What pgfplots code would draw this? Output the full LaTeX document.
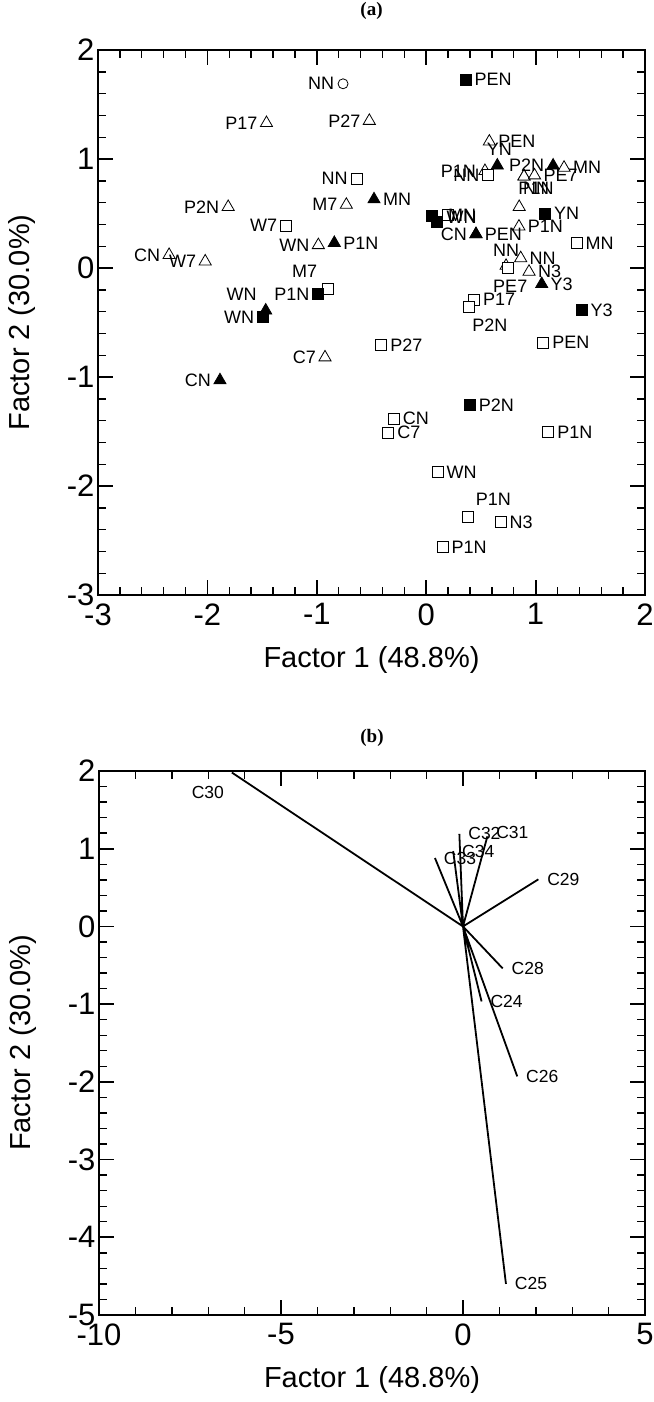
\documentclass[border=0pt]{standalone}
\usepackage{fontspec}
\setmainfont{Liberation Sans}
\newfontfamily\serifbf{Liberation Serif}
\usepackage{pgfplots}
\usepackage{pgfplotstable}
\pgfplotsset{compat=1.18}

% label helpers: left of the mark, right of the mark, centred at an offset (pt)
\newcommand\Lt[1]{\makebox[0pt][r]{#1\hspace*{9pt}}}
\newcommand\Rt[1]{\makebox[0pt][l]{\hspace*{9pt}#1}}
\newcommand\Ct[3]{\makebox[0pt][l]{\hspace*{#1pt}\makebox[0pt][c]{\raisebox{\dimexpr #2pt-0.358em\relax}[0pt][0pt]{#3}}}}

% scores, panel (a): open triangles
\pgfplotstableread{
x y lab
-1.46 1.33 \Lt{P17}
-0.52 1.35 \Lt{P27}
-0.73 0.58 \Lt{M7}
-1.81 0.56 \Lt{P2N}
-0.986 0.21 \Lt{WN}
-2.35 0.12 \Lt{CN}
-2.02 0.06 \Lt{W7}
-0.925 -0.82 \Lt{C7}
0.577 1.16 \Rt{PEN}
0.537 0.89 \Lt{P1N}
0.894 0.84 \Ct{12}{-12}{P1N}
0.894 0.84 \Ct{12}{-12}{NN}
0.99 0.85 \Rt{PE7}
1.26 0.92 \Rt{MN}
0.85 0.56 {}
0.848 0.38 \Rt{P1N}
0.864 0.09 \Rt{NN}
0.73 0.02 \Ct{0}{16}{NN}
0.94 -0.034 \Rt{N3}
}\otri

% filled triangles
\pgfplotstableread{
x y lab
-0.477 0.63 \Rt{MN}
-0.84 0.23 \Rt{P1N}
-1.467 -0.39 \Ct{-24}{16}{WN}
-1.885 -1.03 \Lt{CN}
0.65 0.94 \Ct{2}{16}{YN}
1.16 0.94 \Lt{P2N}
0.455 0.31 \Lt{CN}
0.455 0.31 \Rt{PEN}
1.056 -0.147 \Rt{Y3}
}\ftri

% open squares
\pgfplotstableread{
x y lab
-0.635 0.82 \Lt{NN}
-1.28 0.39 \Lt{W7}
-0.90 -0.195 \Ct{-23}{18}{M7}
-0.41 -0.71 \Rt{P27}
-0.295 -1.38 \Rt{CN}
-0.346 -1.51 \Rt{C7}
1.116 -1.507 \Rt{P1N}
0.105 -1.87 \Rt{WN}
0.385 -2.28 \Ct{25}{17}{P1N}
0.68 -2.33 \Rt{N3}
0.15 -2.56 \Rt{P1N}
0.568 0.853 \Lt{NN}
0.20 0.49 \Ct{14}{0}{MN}
1.375 0.226 \Rt{MN}
0.75 0.0 \Ct{2}{-18}{PE7}
0.437 -0.29 \Rt{P17}
0.39 -0.355 \Ct{21}{-18}{P2N}
1.07 -0.685 \Rt{PEN}
}\osq

% filled squares
\pgfplotstableread{
x y lab
0.36 1.73 \Rt{PEN}
-0.986 -0.24 \Lt{P1N}
-1.49 -0.45 \Lt{WN}
0.40 -1.257 \Rt{P2N}
0.05 0.477 {}
0.096 0.425 \Ct{25}{5}{WN}
1.086 0.50 \Rt{YN}
1.42 -0.385 \Rt{Y3}
}\fsq

% open circle
\pgfplotstableread{
x y lab
-0.76 1.69 \Lt{NN}
}\ocirc

% loadings, panel (b): each vector runs from the origin to (x,y)
\pgfplotstableread{
x y lab
0 0 {}
-6.35 1.98 \Ct{-24}{-20}{C30}
nan nan {}
0 0 {}
2.07 0.606 \Rt{C29}
nan nan {}
0 0 {}
1.09 -0.54 \Rt{C28}
nan nan {}
0 0 {}
0.51 -0.965 \Rt{C24}
nan nan {}
0 0 {}
1.49 -1.93 \Rt{C26}
nan nan {}
0 0 {}
1.18 -4.6 \Rt{C25}
nan nan {}
0 0 {}
-0.10 1.19 \Rt{C32}
nan nan {}
0 0 {}
0.67 1.16 \Ct{25}{4}{C31}
nan nan {}
0 0 {}
-0.27 0.97 \Rt{C34}
nan nan {}
0 0 {}
-0.77 0.88 \Rt{C33}
}\vecs

\pgfplotsset{
  myaxis/.style={
    scale only axis, width=547pt, height=545pt,
    axis line style={line width=2.5pt},
    major tick length=15pt, minor tick length=8pt,
    major tick style={line width=1.8pt, black},
    minor tick style={line width=1.4pt, black},
    tick align=inside,
    ticklabel style={font=\fontsize{31}{31}\selectfont},
    /pgf/number format/assume math mode=true,
    xticklabel style={yshift=-5pt},
    label style={font=\fontsize{29}{29}\selectfont},
    xlabel style={at={(axis description cs:0.5,-0.119)}, anchor=center},
    ylabel style={at={(axis description cs:-0.139,0.5)}, anchor=center},
    xlabel={Factor 1 (48.8\%)}, ylabel={Factor 2 (30.0\%)},
  },
  lbl/.style={
    point meta=explicit symbolic, nodes near coords,
    every node near coord/.append style={anchor=center, inner sep=0pt,
      text=black, font=\fontsize{18}{18}\selectfont},
  },
}

\begin{document}
\begin{tikzpicture}
\useasboundingbox (0,0) rectangle (653pt,-1402pt);
\begin{axis}[myaxis, at={(98pt,-50pt)}, anchor=north west,
  xmin=-3, xmax=2, ymin=-3, ymax=2,
  xtick={-3,...,2}, ytick={-3,...,2}, minor tick num=4,
  title={(a)},
  title style={at={(axis description cs:0.5,1.061)}, anchor=center,
    font=\serifbf\bfseries\fontsize{19}{19}\selectfont},
  clip=false]
\addplot[lbl, only marks, mark=triangle*, mark size=7pt,
  mark options={fill=white, draw=black, line width=0.8pt}]
  table[x=x, y=y, meta=lab] \otri;
\addplot[lbl, only marks, mark=square*, mark size=5.5pt,
  mark options={fill=white, draw=black, line width=0.8pt}]
  table[x=x, y=y, meta=lab] \osq;
\addplot[lbl, only marks, mark=*, mark size=5pt,
  mark options={fill=white, draw=black, line width=0.8pt}]
  table[x=x, y=y, meta=lab] \ocirc;
\addplot[lbl, only marks, mark=triangle*, mark size=7pt,
  mark options={fill=black, draw=black, line width=0.8pt}]
  table[x=x, y=y, meta=lab] \ftri;
\addplot[lbl, only marks, mark=square*, mark size=5.5pt,
  mark options={fill=black, draw=black, line width=0.8pt}]
  table[x=x, y=y, meta=lab] \fsq;
\end{axis}

\begin{axis}[myaxis, at={(99pt,-771pt)}, anchor=north west,
  width=546pt, height=544pt,
  xmin=-10, xmax=5, ymin=-5, ymax=2,
  xtick={-10,-5,0,5}, ytick={-5,...,2},
  minor x tick num=4, minor y tick num=4,
  title={(b)},
  title style={at={(axis description cs:0.5,1.05)}, anchor=center,
    font=\serifbf\bfseries\fontsize{19}{19}\selectfont},
  clip=false, unbounded coords=jump]
\addplot[lbl, black, line width=1.8pt, mark=none,
  every node near coord/.append style={font=\fontsize{17.5}{17.5}\selectfont}]
  table[x=x, y=y, meta=lab] \vecs;
\end{axis}
\end{tikzpicture}
\end{document}
